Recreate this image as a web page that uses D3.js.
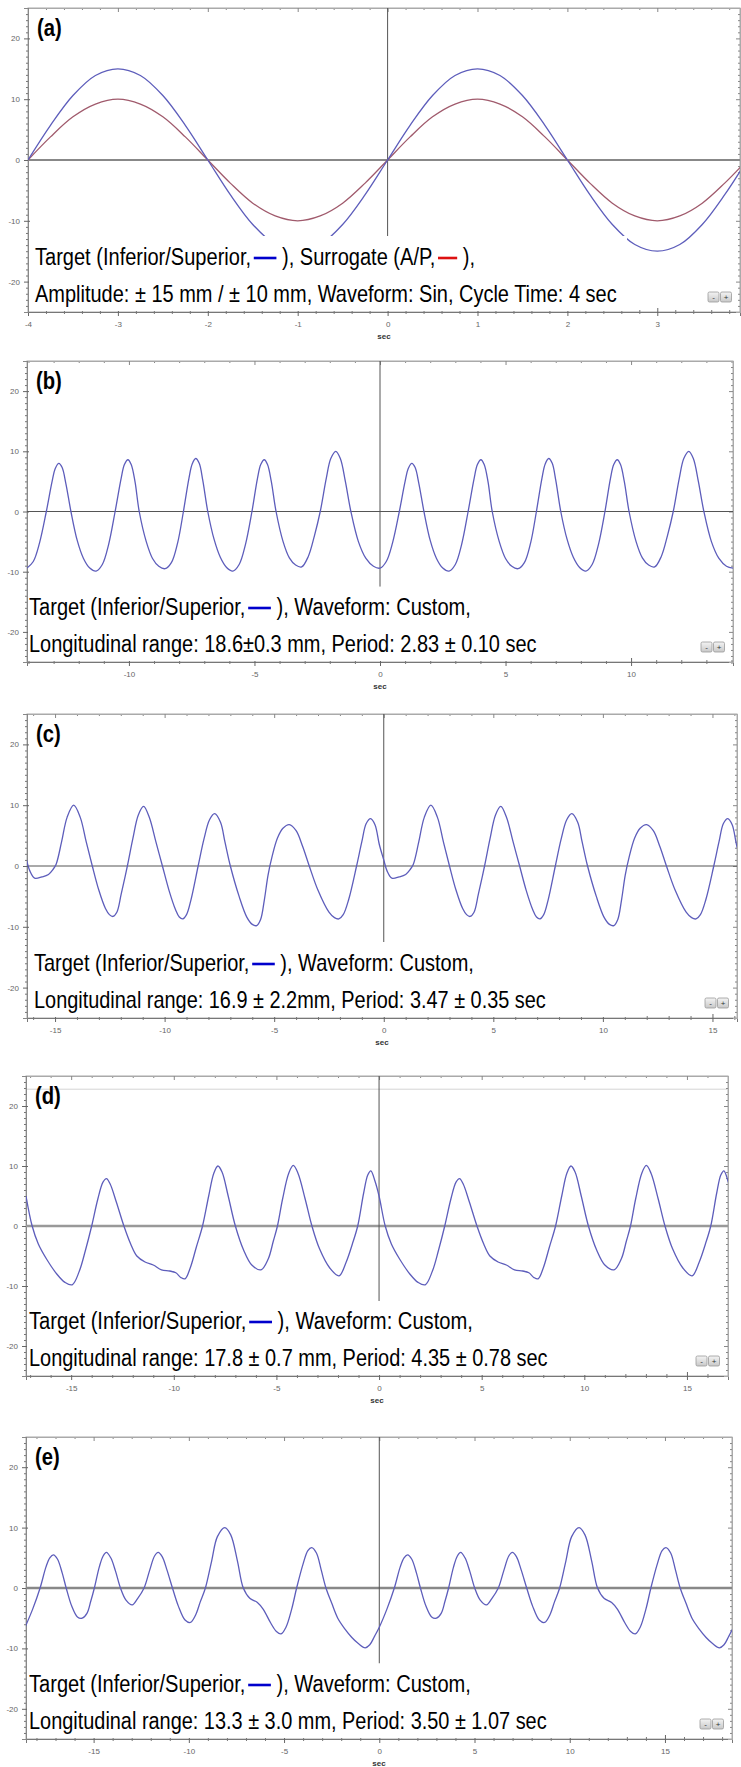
<!DOCTYPE html>
<html lang="en">
<head>
<meta charset="UTF-8" />
<title>Target / surrogate motion waveforms</title>
<style>
  body { margin: 0; background: #fff; }
  svg { display: block; }
  .tick text { font: 8px "Liberation Sans Narrow", "Liberation Sans", sans-serif; fill: #666; }
  .legend text { font: 23px "Liberation Sans Narrow", "Liberation Sans", sans-serif; fill: #000; }
  .tag { font: bold 23px "Liberation Sans", Arial, sans-serif; fill: #000; }
  .unit { font: bold 8px "Liberation Sans", sans-serif; fill: #333; }
</style>
</head>
<body>
<svg width="741" height="1767"></svg>
<script src="https://d3js.org/d3.v7.min.js"></script>
<script>
// (a) one 4 s cycle of the sine
const sineTime = [0, 0.25, 0.5, 0.75, 1, 1.25, 1.5, 1.75, 2, 2.25, 2.5, 2.75, 3, 3.25, 3.5, 3.75, 4];
const targetSin = [0, 5.7, 10.6, 13.9, 15, 13.9, 10.6, 5.7, 0, -5.7, -10.6, -13.9, -15, -13.9, -10.6, -5.7, 0];
const surrogateSin = [0, 3.8, 7.1, 9.2, 10, 9.2, 7.1, 3.8, 0, -3.8, -7.1, -9.2, -10, -9.2, -7.1, -3.8, 0];

// (b)-(e): one recorded cycle each [sec, mm]; the software plays it twice
const cycleB = [[0,-9.4],[0.25,-8.3],[0.5,-5.2],[0.77,0],[1,5],[1.13,7.2],[1.27,8],[1.4,7.3],[1.55,4.6],[1.75,0],
  [2,-4.8],[2.25,-7.8],[2.5,-9.4],[2.75,-9.9],[3,-8.8],[3.25,-5.5],[3.51,0],[3.75,5.5],[3.88,7.8],[4.02,8.6],
  [4.15,7.8],[4.3,5],[4.47,0],[4.75,-5],[5,-7.8],[5.25,-9.1],[5.5,-9.5],[5.75,-8.5],[6,-5.2],[6.23,0],
  [6.45,5.5],[6.58,7.9],[6.72,8.8],[6.86,8],[7,5.2],[7.2,0],[7.45,-4.6],[7.7,-7.6],[7.95,-9.3],[8.2,-9.9],
  [8.45,-8.8],[8.7,-5.5],[8.96,0],[9.18,5.5],[9.31,7.8],[9.45,8.6],[9.58,7.8],[9.73,5],[9.92,0],[10.2,-5],
  [10.45,-7.7],[10.7,-8.9],[10.94,-9.2],[11.2,-7.5],[11.45,-4],[11.68,0],[11.92,5.5],[12.1,8.8],[12.3,10],
  [12.48,8.8],[12.68,5],[12.9,0],[13.2,-5],[13.5,-7.8],[13.8,-9.1],[14.06,-9.4]];

const cycleC = [[0,1],[0.15,-0.8],[0.37,-2],[0.7,-1.8],[1,-1.4],[1.2,-0.6],[1.35,0.3],[1.6,4],[1.85,8],[2.15,10],
  [2.45,8],[2.72,4],[3,0],[3.3,-4],[3.6,-7],[3.78,-8],[3.94,-8.3],[4.12,-7.6],[4.32,-4.6],[4.6,0],[4.85,4.5],
  [5.1,8.4],[5.34,9.8],[5.6,8],[5.9,4],[6.2,0],[6.5,-4],[6.8,-7.2],[6.97,-8.4],[7.13,-8.7],[7.3,-8],[7.5,-5.6],
  [7.83,0],[8.1,4.5],[8.35,7.6],[8.58,8.6],[8.85,7.2],[9.05,4],[9.3,0],[9.7,-5],[10.05,-8.4],[10.3,-9.6],
  [10.5,-9.8],[10.68,-8.8],[10.85,-5.6],[11.02,-1.5],[11.2,1.5],[11.45,4.6],[11.7,6.2],[11.99,6.8],
  [12.3,5.8],[12.6,3.2],[12.9,0],[13.3,-4],[13.8,-7.6],[14.05,-8.5],[14.25,-8.7],[14.45,-8],[14.7,-5.5],
  [15.06,0],[15.3,4],[15.5,7],[15.7,7.8],[15.9,6.8],[16.1,3.5],[16.3,1]];

const cycleD = [[0,5],[0.3,0],[0.6,-3],[1,-5.5],[1.5,-8],[1.9,-9.4],[2.25,-9.8],[2.6,-7.5],[2.9,-4],[3.2,0],
  [3.5,4.5],[3.75,7.3],[3.92,7.9],[4.1,7],[4.4,4],[4.77,0],[5.1,-3],[5.4,-5],[5.8,-6],[6.2,-6.5],[6.6,-7.3],
  [7,-7.5],[7.3,-7.8],[7.55,-8.6],[7.75,-8.8],[8,-7],[8.3,-3.5],[8.6,0],[8.9,5],[9.15,8.8],[9.35,10],
  [9.55,9],[9.85,5],[10.2,0],[10.6,-4],[11,-6.5],[11.45,-7.3],[11.8,-5.5],[12.05,-2.5],[12.25,0],[12.5,4.5],
  [12.8,8.8],[13.02,10.1],[13.25,8.8],[13.6,4.5],[13.93,0],[14.3,-3.8],[14.8,-7],[15.25,-8.3],[15.6,-6],
  [15.9,-3],[16.16,0],[16.45,5.5],[16.65,8.5],[16.8,9.2],[17,7.5],[17.2,5]];

const cycleE = [[0,-6.5],[0.4,-3.5],[0.79,0],[1.1,3.5],[1.3,5],[1.49,5.5],[1.7,4.8],[1.95,2.5],[2.16,0],
  [2.45,-3],[2.75,-4.8],[3,-5],[3.25,-4.2],[3.45,-2.2],[3.64,0],[3.9,3.5],[4.1,5.3],[4.27,5.9],[4.5,5],
  [4.75,2.8],[5.01,0],[5.3,-2],[5.63,-2.8],[5.9,-1.8],[6.25,0],[6.55,3],[6.8,5.3],[6.99,5.9],[7.2,5.2],
  [7.45,3],[7.74,0],[8.05,-3],[8.4,-5.3],[8.68,-5.7],[8.95,-4.5],[9.2,-2.3],[9.47,0],[9.8,4.5],[10.1,8.5],
  [10.49,10],[10.8,8.8],[11.15,4.5],[11.46,0],[11.8,-1.7],[12.2,-2.4],[12.5,-3.5],[12.9,-5.8],[13.2,-7.2],
  [13.44,-7.6],[13.7,-6.5],[14,-3.5],[14.26,0],[14.6,4],[14.85,6.2],[15.05,6.7],[15.3,5.8],[15.55,3],
  [15.8,0],[16.1,-2.5],[16.42,-5],[16.8,-6.8],[17.16,-8.2],[17.5,-9.2],[17.86,-9.9],[18.1,-9.4],[18.35,-8],[18.6,-6.5]];

const yMajor = [-20, -10, 0, 10, 20];

const blue = '#0000cc', red = '#dd1111';
const sineCycle = (vals) => sineTime.map((t, i) => [t, vals[i]]);

const panels = [
  { tag: '(a)', left: 28, right: 740, top: 8, bottom: 312, xDomain: [-4, 3.92], major: 1, minor: 0.2,
    series: [{ cycle: sineCycle(surrogateSin), len: 4, color: '#a05a6c' },
             { cycle: sineCycle(targetSin), len: 4, color: '#5d5dbb' }],
    zero: { color: '#888', width: 2 }, textX: 35,
    lines: [{ w: 440, parts: ['Target (Inferior/Superior,', { sw: blue, w: 26 }, ' ), Surrogate (A/P,', { sw: red, w: 22 }, ' ),'] },
            { w: 582, parts: ['Amplitude: \u00b1 15 mm / \u00b1 10 mm, Waveform: Sin, Cycle Time: 4 sec'] }] },
  { tag: '(b)', left: 27, right: 733, top: 361, bottom: 662, xDomain: [-14.06, 14.06], major: 5, minor: 1,
    series: [{ cycle: cycleB, len: 14.06, color: '#5d5dbb' }],
    zero: { color: '#555', width: 1 }, textX: 29,
    lines: [{ w: 442, parts: ['Target (Inferior/Superior,', { sw: blue, w: 26 }, ' ), Waveform: Custom,'] },
            { w: 508, parts: ['Longitudinal range: 18.6\u00b10.3 mm, Period: 2.83 \u00b1 0.10 sec'] }] },
  { tag: '(c)', left: 27, right: 737, top: 714, bottom: 1018, xDomain: [-16.28, 16.12], major: 5, minor: 1,
    series: [{ cycle: cycleC, len: 16.3, color: '#5d5dbb' }],
    zero: { color: '#555', width: 1 }, textX: 34,
    lines: [{ w: 440, parts: ['Target (Inferior/Superior,', { sw: blue, w: 26 }, ' ), Waveform: Custom,'] },
            { w: 512, parts: ['Longitudinal range: 16.9 \u00b1 2.2mm, Period: 3.47 \u00b1 0.35 sec'] }] },
  { tag: '(d)', left: 26, right: 728, top: 1076, bottom: 1376, xDomain: [-17.2, 17.0], major: 5, minor: 1,
    series: [{ cycle: cycleD, len: 17.2, color: '#5d5dbb' }],
    zero: { color: '#999', width: 2.5 }, textX: 29, faintAt: 22.8,
    lines: [{ w: 444, parts: ['Target (Inferior/Superior,', { sw: blue, w: 26 }, ' ), Waveform: Custom,'] },
            { w: 519, parts: ['Longitudinal range: 17.8 \u00b1 0.7 mm, Period: 4.35 \u00b1 0.78 sec'] }] },
  { tag: '(e)', left: 26, right: 732, top: 1437, bottom: 1739, xDomain: [-18.55, 18.52], major: 5, minor: 1,
    series: [{ cycle: cycleE, len: 18.6, color: '#5d5dbb' }],
    zero: { color: '#888', width: 2.5 }, textX: 29,
    lines: [{ w: 442, parts: ['Target (Inferior/Superior,', { sw: blue, w: 26 }, ' ), Waveform: Custom,'] },
            { w: 518, parts: ['Longitudinal range: 13.3 \u00b1 3.0 mm, Period: 3.50 \u00b1 1.07 sec'] }] }
];

const svg = d3.select('svg');
const defs = svg.append('defs');
const grad = defs.append('linearGradient').attr('id', 'btn').attr('x1', 0).attr('x2', 0).attr('y1', 0).attr('y2', 1);
grad.append('stop').attr('offset', '0%').attr('stop-color', '#f4f4f4');
grad.append('stop').attr('offset', '100%').attr('stop-color', '#c8c8c8');

function stepValues(domain, step) {
  const lo = Math.ceil(domain[0] / step - 1e-6), hi = Math.floor(domain[1] / step + 1e-6);
  return d3.range(lo, hi + 1).map((i) => +(i * step).toFixed(3));
}

panels.forEach((p, pi) => {
  const g = svg.append('g');
  const x = d3.scaleLinear().domain(p.xDomain).range([p.left, p.right]);
  const y = d3.scaleLinear().domain([-25, 25]).range([p.bottom, p.top]);

  const clipId = 'clip' + pi;
  defs.append('clipPath').attr('id', clipId).append('rect')
    .attr('x', p.left).attr('y', p.top).attr('width', p.right - p.left).attr('height', p.bottom - p.top);

  // frame
  g.append('rect')
    .attr('x', p.left).attr('y', p.top)
    .attr('width', p.right - p.left).attr('height', p.bottom - p.top)
    .attr('fill', '#fff').attr('stroke', '#aaa');

  if (p.faintAt) {
    g.append('line').attr('x1', p.left).attr('x2', p.right)
      .attr('y1', y(p.faintAt)).attr('y2', y(p.faintAt))
      .attr('stroke', '#d4d4d4').attr('stroke-width', 1);
  }

  const xMajor = stepValues(p.xDomain, p.major);
  const xMinor = stepValues(p.xDomain, p.minor).filter((v) => !xMajor.includes(v));
  const yMinor = stepValues([-25, 25], 1).filter((v) => !yMajor.includes(v));

  // bottom axis
  const bottom = g.append('g').attr('transform', `translate(0,${p.bottom})`);
  bottom.append('g').call(d3.axisBottom(x).tickValues(xMinor).tickSize(2).tickFormat(''))
    .call((s) => s.selectAll('.tick line').attr('y1', -2).attr('stroke', '#777'));
  bottom.append('g').call(d3.axisBottom(x).tickValues(xMajor).tickSize(4).tickPadding(5).tickFormat((d) => String(d)))
    .call((s) => s.selectAll('.tick line').attr('y1', -4).attr('stroke', '#666'))
    .call((s) => s.selectAll('.tick text').attr('font-size', null));
  bottom.selectAll('.domain').attr('stroke', '#777');

  // top frame ticks, pointing inward
  const topAx = g.append('g').attr('transform', `translate(0,${p.top})`);
  topAx.append('g').call(d3.axisTop(x).tickValues(xMinor).tickSize(-2).tickFormat(''));
  topAx.append('g').call(d3.axisTop(x).tickValues(xMajor).tickSize(-4).tickFormat(''));
  topAx.selectAll('.domain').attr('stroke', '#aaa');
  topAx.selectAll('.tick line').attr('stroke', '#888');

  // left axis
  const leftAx = g.append('g').attr('transform', `translate(${p.left},0)`);
  leftAx.append('g').call(d3.axisLeft(y).tickValues(yMinor).tickSize(2).tickFormat(''))
    .call((s) => s.selectAll('.tick line').attr('x1', 1).attr('stroke', '#777'));
  leftAx.append('g').call(d3.axisLeft(y).tickValues(yMajor).tickSize(4).tickPadding(4).tickFormat((d) => String(d)))
    .call((s) => s.selectAll('.tick line').attr('x1', 2).attr('stroke', '#666'))
    .call((s) => s.selectAll('.tick text').attr('font-size', null));
  leftAx.selectAll('.domain').attr('stroke', '#888');

  // right frame ticks, pointing inward
  const rightAx = g.append('g').attr('transform', `translate(${p.right},0)`);
  rightAx.append('g').call(d3.axisRight(y).tickValues(yMinor).tickSize(-2).tickFormat(''));
  rightAx.append('g').call(d3.axisRight(y).tickValues(yMajor).tickSize(-4).tickFormat(''));
  rightAx.selectAll('.domain').attr('stroke', '#aaa');
  rightAx.selectAll('.tick line').attr('stroke', '#888');

  g.selectAll('.tick text').attr('font-family', null);

  // zero lines
  g.append('line').attr('x1', p.left).attr('x2', p.right).attr('y1', y(0)).attr('y2', y(0))
    .attr('stroke', p.zero.color).attr('stroke-width', p.zero.width);
  g.append('line').attr('x1', x(0)).attr('x2', x(0)).attr('y1', p.top).attr('y2', y(-12.5))
    .attr('stroke', '#555').attr('stroke-width', 1);

  // curves: the cycle is played back twice, once either side of zero
  const line = d3.line().x((d) => x(d[0])).y((d) => y(d[1])).curve(d3.curveCatmullRom.alpha(0.5));
  p.series.forEach((s) => {
    const pts = [-s.len, 0].flatMap((off, k) =>
      s.cycle.filter((d, i) => k === 0 || i > 0).map((d) => [d[0] + off, d[1]]));
    g.append('path').datum(pts)
      .attr('clip-path', `url(#${clipId})`)
      .attr('fill', 'none').attr('stroke', s.color).attr('stroke-width', 1.3)
      .attr('d', line);
  });

  // legend box hides anything under it
  g.append('rect').attr('x', p.left + 1).attr('y', y(-12.5))
    .attr('width', 598).attr('height', p.bottom - y(-12.5) - 1).attr('fill', '#fff');

  const legend = g.append('g').attr('class', 'legend');
  p.lines.forEach((ln, li) => {
    const baseline = p.bottom - (li === 0 ? 47 : 10);
    const row = legend.append('g');
    let cx = 0;
    ln.parts.forEach((part) => {
      if (typeof part === 'string') {
        const t = row.append('text').attr('x', cx).attr('y', 0).text(part).style('white-space', 'pre');
        cx += t.node().getComputedTextLength();
      } else {
        row.append('line').attr('x1', cx + 3).attr('x2', cx + 3 + part.w)
          .attr('y1', -7).attr('y2', -7)
          .attr('stroke', part.sw).attr('stroke-width', 2.6);
        cx += part.w + 3;
      }
    });
    const k = ln.w / cx;
    row.attr('transform', `translate(${p.textX},${baseline}) scale(${k},1)`);
  });

  // panel tag, slightly condensed like the source
  g.append('text').attr('class', 'tag')
    .attr('transform', `translate(${p.left + 9},${p.top + 28}) scale(0.88,1)`).text(p.tag);

  // axis title
  g.append('text').attr('class', 'unit').attr('text-anchor', 'middle')
    .attr('x', (p.left + p.right) / 2).attr('y', p.bottom + 27).text('sec');

  // zoom buttons
  const bx = p.right - 32, by = p.bottom - 20;
  ['-', '+'].forEach((c, i) => {
    g.append('rect').attr('x', bx + i * 12.5).attr('y', by).attr('width', 11).attr('height', 10)
      .attr('rx', 1.5).attr('fill', 'url(#btn)').attr('stroke', '#999').attr('stroke-width', 0.8);
    g.append('text').attr('x', bx + i * 12.5 + 5.5).attr('y', by + 7.5).attr('text-anchor', 'middle')
      .attr('font-size', 8).attr('font-family', 'Liberation Sans, sans-serif').attr('fill', '#333').text(c);
  });
});
</script>
</body>
</html>
